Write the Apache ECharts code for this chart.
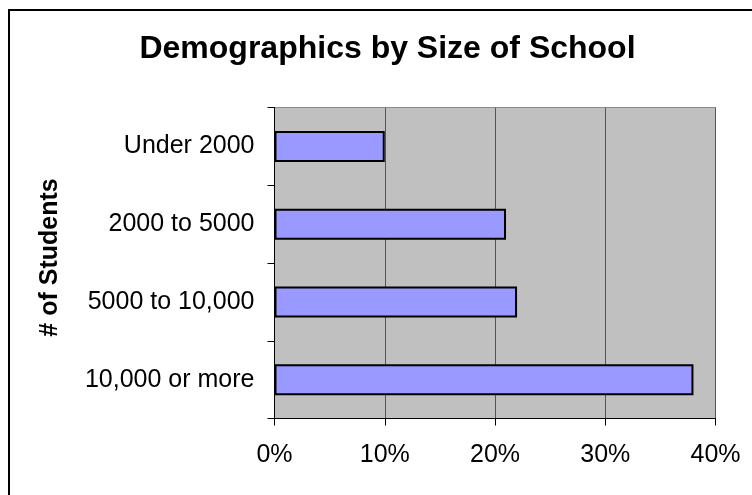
<!DOCTYPE html>
<html>
<head>
<meta charset="utf-8">
<script src="https://cdn.jsdelivr.net/npm/echarts@6/dist/echarts.min.js"></script>
<style>
  html, body { margin: 0; padding: 0; background: #fff; }
  #chart { width: 752px; height: 495px; }
</style>
</head>
<body>
<div id="chart"></div>
<script>
// School size groups, listed top to bottom
const categories = ['Under 2000', '2000 to 5000', '5000 to 10,000', '10,000 or more'];
// Share of students in each group (percent)
const shares = [10, 21, 22, 38];
// Percent axis ticks
const percentTicks = [0, 10, 20, 30, 40];

const FONT = '"Liberation Sans", Arial, sans-serif';

const chart = echarts.init(document.getElementById('chart'), null, { renderer: 'canvas' });

chart.setOption({
  animation: false,
  backgroundColor: '#ffffff',
  graphic: [
    {
      type: 'rect',
      shape: { x: 9, y: 10, width: 900, height: 700 },
      style: { fill: 'none', stroke: '#000', lineWidth: 2 },
      z: 0
    },
    {
      type: 'text',
      x: 387.5,
      y: 49.5,
      style: {
        text: 'Demographics by Size of School',
        font: 'bold 32px ' + FONT,
        fill: '#000',
        align: 'center',
        verticalAlign: 'middle'
      }
    },
    {
      type: 'text',
      x: 50,
      y: 257.5,
      rotation: Math.PI / 2,
      style: {
        text: '# of Students',
        font: 'bold 25px ' + FONT,
        fill: '#000',
        align: 'center',
        verticalAlign: 'middle'
      }
    }
  ],
  grid: {
    left: 274.5,
    right: 36.5,
    top: 107.5,
    bottom: 76.5,
    show: true,
    backgroundColor: '#C0C0C0',
    borderColor: '#8a8a8a',
    borderWidth: 1
  },
  xAxis: {
    type: 'value',
    min: percentTicks[0],
    max: percentTicks[percentTicks.length - 1],
    interval: percentTicks[1] - percentTicks[0],
    axisLine: { show: true, lineStyle: { color: '#000', width: 1 } },
    axisTick: { show: true, length: 7, inside: false, lineStyle: { color: '#000' } },
    splitLine: { show: true, lineStyle: { color: '#555', width: 1 } },
    axisLabel: {
      formatter: '{value}%',
      color: '#000',
      fontFamily: FONT,
      fontSize: 25,
      margin: 24
    }
  },
  yAxis: {
    type: 'category',
    data: categories,
    inverse: true,
    axisLine: { show: true, lineStyle: { color: '#000', width: 1 } },
    axisTick: { show: true, length: 7, lineStyle: { color: '#000' } },
    splitLine: { show: false },
    axisLabel: {
      color: '#000',
      fontFamily: FONT,
      fontSize: 25,
      margin: 20
    }
  },
  series: [
    {
      type: 'bar',
      data: shares,
      barWidth: 31,
      itemStyle: {
        color: '#9999FF',
        borderColor: '#000',
        borderWidth: 2
      }
    }
  ]
});
</script>
</body>
</html>
